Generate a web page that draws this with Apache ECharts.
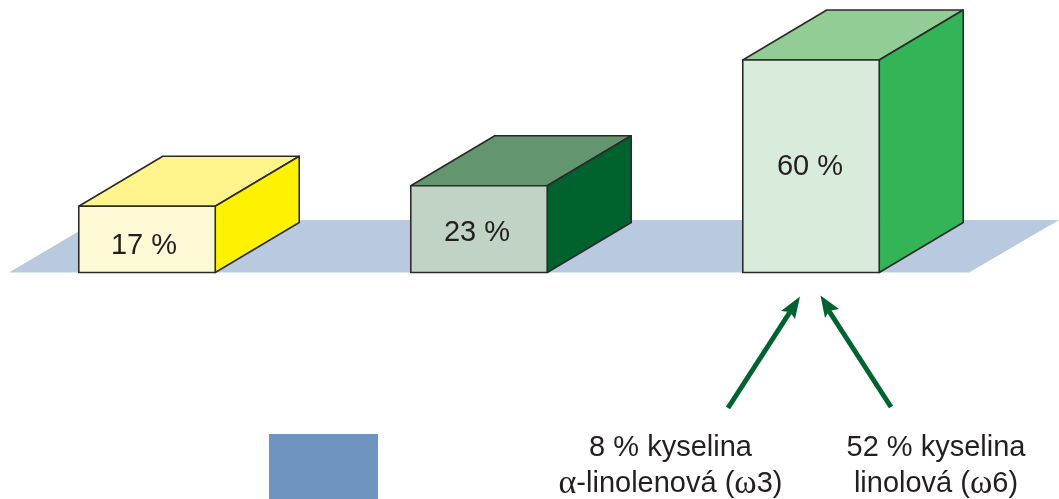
<!DOCTYPE html>
<html>
<head>
<meta charset="utf-8">
<style>html,body{margin:0;padding:0;background:#fff}#chart{width:1059px;height:499px}</style>
<script src="https://cdn.jsdelivr.net/npm/echarts@6/dist/echarts.min.js"></script>
</head>
<body>
<div id="chart"></div>
<script>
// Fatty acid shares shown as three blocks standing on a shared floor.
const positions = [0, 1, 2];
const shareValues = [17, 23, 60];
const shareLabels = ['17 %', '23 %', '60 %'];
const frontColors = ['#fffad6', '#c1d3c5', '#d9ebda'];
const topColors = ['#fff48c', '#63956f', '#92cd96'];
const sideColors = ['#fff200', '#00632f', '#33b457'];

// Block geometry and label placement, in pixels.
const DEPTH_X = 84;
const DEPTH_Y = 50;
const LABEL_SHIFT = [[-3, 7], [-2, 4], [-1, 1]];
const INK = '#231f20';
const EDGE = '#2b2b2b';
const ARROW = '#00632f';

function renderBlock(params, api) {
  const i = api.value(0);
  const value = api.value(1);
  const w = api.size([1, 0])[0] * 0.411;
  const [cx, yTop] = api.coord([i, value]);
  const yBase = api.coord([i, -2.5])[1];
  const x0 = cx - w / 2, x1 = cx + w / 2;
  const stroke = { stroke: EDGE, lineWidth: 1.6, lineJoin: 'round' };
  const face = (points, fill) => ({
    type: 'polygon',
    shape: { points },
    style: Object.assign({ fill }, stroke)
  });
  const [sx, sy] = LABEL_SHIFT[i];
  return {
    type: 'group',
    children: [
      face([[x0, yTop], [x1, yTop], [x1 + DEPTH_X, yTop - DEPTH_Y], [x0 + DEPTH_X, yTop - DEPTH_Y]], topColors[i]),
      face([[x1, yTop], [x1 + DEPTH_X, yTop - DEPTH_Y], [x1 + DEPTH_X, yBase - DEPTH_Y], [x1, yBase]], sideColors[i]),
      face([[x0, yTop], [x1, yTop], [x1, yBase], [x0, yBase]], frontColors[i]),
      {
        type: 'text',
        style: {
          text: shareLabels[i],
          x: cx + sx,
          y: (yTop + yBase) / 2 + sy,
          align: 'center',
          verticalAlign: 'middle',
          fill: INK,
          font: '29px "Liberation Sans"'
        }
      }
    ]
  };
}

// Arrow with a swept-back head, pointing from tail to tip.
function arrow(tail, tip, barbA, notch, barbB) {
  return [
    { type: 'line', shape: { x1: tail[0], y1: tail[1], x2: notch[0], y2: notch[1] },
      style: { stroke: ARROW, lineWidth: 5 } },
    { type: 'polygon', shape: { points: [tip, barbA, notch, barbB] },
      style: { fill: ARROW } }
  ];
}

function caption(x, y, rich) {
  return {
    type: 'text', x, y,
    style: {
      text: rich,
      align: 'center',
      verticalAlign: 'middle',
      fill: INK,
      font: '29px "Liberation Sans"',
      rich: {
        s: { font: '29px "Liberation Sans"', fill: INK },
        g: { font: '34px "Liberation Serif"', fill: INK }
      }
    }
  };
}

const chart = echarts.init(document.getElementById('chart'), null, { renderer: 'canvas' });
chart.setOption({
  animation: false,
  backgroundColor: '#ffffff',
  grid: { left: 0, right: 0, top: 60, height: 212.5 },
  xAxis: { type: 'value', min: -147 / 332, max: 912 / 332, show: false },
  yAxis: { type: 'value', min: -2.5, max: 60, show: false },
  graphic: [
    { type: 'polygon', shape: { points: [[9, 272.5], [969, 272.5], [1059, 220], [98, 220]] },
      style: { fill: '#b9c9e0' } },
    { type: 'rect', shape: { x: 269, y: 434, width: 109, height: 65 }, style: { fill: '#6f94bf' } },
    ...arrow([728, 408], [800, 296.5], [781, 311], [790, 312], [795, 319]),
    ...arrow([891, 407], [820.5, 295.5], [839, 309], [829, 311], [825, 318]),
    caption(670.5, 448, '8 % kyselina'),
    caption(670.5, 484, '{g|α}{s|-linolenová (}{g|ω}{s|3)}'),
    caption(936, 448, '52 % kyselina'),
    caption(936, 484, '{s|linolová (}{g|ω}{s|6)}')
  ],
  series: [{
    type: 'custom',
    clip: false,
    renderItem: renderBlock,
    encode: { x: 0, y: 1 },
    data: positions.map((p, i) => [p, shareValues[i]])
  }]
});
</script>
</body>
</html>
